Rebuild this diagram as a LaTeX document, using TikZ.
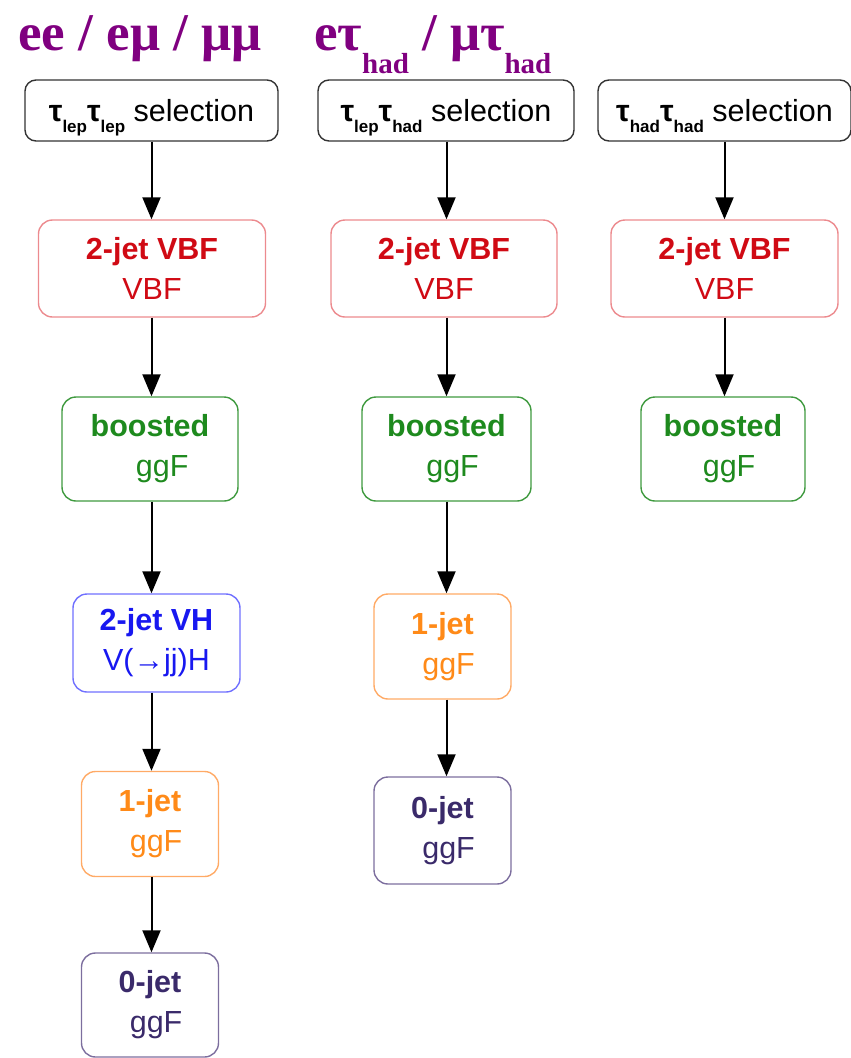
\documentclass[tikz,border=0pt]{standalone}
\usepackage{fontspec}
\setmainfont{Liberation Serif}
\setsansfont{Liberation Sans}
\usepackage{xcolor}
\usetikzlibrary{arrows.meta,positioning}

\definecolor{titlepurple}{HTML}{800080}
\definecolor{vbftext}{HTML}{D00A14}
\definecolor{vbfline}{HTML}{EC8A8E}
\definecolor{bsttext}{HTML}{1E8A1E}
\definecolor{bstline}{HTML}{3F9A3F}
\definecolor{vhtext}{HTML}{1818F0}
\definecolor{vhline}{HTML}{7070FF}
\definecolor{onetext}{HTML}{FF8A18}
\definecolor{oneline}{HTML}{FFAA66}
\definecolor{zerotext}{HTML}{3A2A6A}
\definecolor{zeroline}{HTML}{7C6E9E}

\newcommand{\lepsub}[1]{\raisebox{-0.38em}[\height][0pt]{\fontsize{17}{17}\selectfont\bfseries #1}}
\newcommand{\titlesub}[1]{\raisebox{-0.45em}{\fontsize{29}{29}\selectfont #1}}

\begin{document}
\begin{tikzpicture}[
  x=1pt,y=-1pt,
  every node/.style={font=\sffamily\fontsize{30.5}{40}\selectfont,align=center,inner sep=0pt},
  flow/.style={-{Triangle[length=22pt,width=18pt]},line width=2pt},
  title/.style={font=\rmfamily\bfseries\fontsize{53}{53}\selectfont,text=titlepurple,anchor=base west},
  selbox/.style={draw=black!80,line width=1.4pt,rounded corners=11pt,
                 minimum width=253pt,minimum height=61pt},
  catbox/.style={line width=1.4pt,rounded corners=14pt},
  vbfbox/.style={catbox,draw=vbfline,text=vbftext,minimum width=227pt,minimum height=97pt},
  bstbox/.style={catbox,draw=bstline,text=bsttext,minimum height=104pt},
  vhbox/.style={catbox,draw=vhline,text=vhtext,minimum width=167pt,minimum height=98pt},
  onebox/.style={catbox,draw=oneline,text=onetext,minimum width=137pt,minimum height=105pt},
  zerobox/.style={catbox,draw=zeroline,text=zerotext,minimum width=137pt,minimum height=104pt}
]
  \useasboundingbox (0,0) rectangle (851,1058);

  % channel titles
  \node[title] (tll) at (18,50) {ee / eμ / μμ};
  \node[title] (tlh) at (314,50) {eτ\titlesub{had} / μτ\titlesub{had}};

  % lep-lep
  \node[selbox] (sel1) at (151.5,110.5)
    {\textbf{τ}\lepsub{lep}\textbf{τ}\lepsub{lep} selection};
  \node[vbfbox] (vbf1) at (152,268.5) {\textbf{2-jet VBF}\\VBF};
  \node[bstbox,minimum width=176pt] (bst1) at (150,449) {\textbf{boosted}\\\hspace{0.8em}ggF};
  \node[vhbox] (vh1) at (156.5,643) {\textbf{2-jet VH}\\V(→jj)H};
  \node[onebox] (one1) at (150,824) {\textbf{1-jet}\\\hspace{0.4em}ggF};
  \node[zerobox] (zero1) at (150,1005) {\textbf{0-jet}\\\hspace{0.4em}ggF};

  \draw[flow] (sel1) -- (vbf1.north -| sel1);
  \draw[flow] (vbf1.south -| sel1) -- (bst1.north -| sel1);
  \draw[flow] (bst1.south -| sel1) -- (vh1.north -| sel1);
  \draw[flow] (vh1.south -| sel1) -- (one1.north -| sel1);
  \draw[flow] (one1.south -| sel1) -- (zero1.north -| sel1);

  % lep-had
  \node[selbox,minimum width=256pt] (sel2) at (446,110.5)
    {\textbf{τ}\lepsub{lep}\textbf{τ}\lepsub{had} selection};
  \node[vbfbox,minimum width=226pt] (vbf2) at (444,268.5) {\textbf{2-jet VBF}\\VBF};
  \node[bstbox,minimum width=169pt] (bst2) at (446.5,449) {\textbf{boosted}\\\hspace{0.4em}ggF};
  \node[onebox] (one2) at (442.5,646.5) {\textbf{1-jet}\\\hspace{0.4em}ggF};
  \node[zerobox,minimum height=107pt] (zero2) at (442.5,830.5) {\textbf{0-jet}\\\hspace{0.4em}ggF};

  \draw[flow] (sel2.south -| bst2) -- (vbf2.north -| bst2);
  \draw[flow] (vbf2.south -| bst2) -- (bst2);
  \draw[flow] (bst2) -- (one2.north -| bst2);
  \draw[flow] (one2.south -| bst2) -- (zero2.north -| bst2);

  % had-had
  \node[selbox] (sel3) at (724.5,110.5)
    {\textbf{τ}\lepsub{had}\textbf{τ}\lepsub{had} selection};
  \node[vbfbox] (vbf3) at (724.5,268.5) {\textbf{2-jet VBF}\\VBF};
  \node[bstbox,minimum width=164pt] (bst3) at (723,449) {\textbf{boosted}\\\hspace{0.4em}ggF};

  \draw[flow] (sel3) -- (vbf3);
  \draw[flow] (vbf3.south -| sel3) -- (bst3.north -| sel3);
\end{tikzpicture}
\end{document}
